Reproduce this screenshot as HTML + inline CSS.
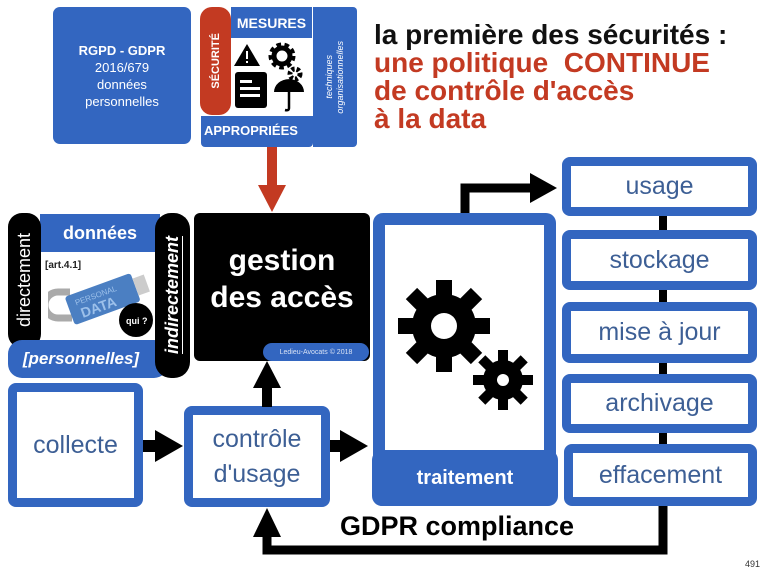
<!DOCTYPE html>
<html><head><meta charset="utf-8"><style>
*{margin:0;padding:0;box-sizing:border-box}
body{width:768px;height:576px;background:#fff;position:relative;overflow:hidden;font-family:"Liberation Sans","DejaVu Sans",sans-serif}
.a{position:absolute}
.blue{background:#3366c0}
.c{display:flex;align-items:center;justify-content:center;text-align:center}
.ob{border:9px solid #3366c0;border-radius:8px;background:#fff;color:#3d5f95;font-size:25px}
.rot{writing-mode:vertical-rl;transform:rotate(180deg)}
</style></head><body>

<div class="a blue c" style="left:53px;top:7px;width:138px;height:137px;border-radius:7px;color:#fff;font-size:13px;line-height:17px;flex-direction:column"><b>RGPD - GDPR</b>2016/679<br>données<br>personnelles</div>

<div class="a blue" style="left:201px;top:116px;width:112px;height:31px;border-radius:0 0 4px 4px"></div>
<div class="a" style="left:204px;top:123px;color:#fff;font-weight:bold;font-size:13px">APPROPRIÉES</div>
<div class="a blue c" style="left:231px;top:7px;width:81px;height:31px;color:#fff;font-weight:bold;font-size:14px">MESURES</div>
<div class="a" style="left:231px;top:38px;width:81px;height:77px;background:#fff"></div>
<div class="a c" style="left:200px;top:7px;width:31px;height:108px;background:#c33a22;border-radius:12px"><span class="rot" style="color:#fff;font-weight:bold;font-size:11px">SÉCURITÉ</span></div>
<div class="a blue c" style="left:313px;top:7px;width:44px;height:140px;border-radius:0 4px 4px 0"><span class="rot" style="color:#fff;font-style:italic;font-size:9px;line-height:11px">techniques<br>organisationnelles</span></div>
<svg class="a" style="left:234px;top:40px" width="76" height="74" viewBox="0 0 76 74">
<polygon points="13,4 26,26 0,26" fill="#000"/><rect x="12" y="11" width="2" height="8" fill="#fff"/><rect x="12" y="21" width="2" height="2" fill="#fff"/>
<circle cx="48" cy="16" r="10" fill="none" stroke="#000" stroke-width="7" stroke-dasharray="4 3"/><circle cx="48" cy="16" r="8" fill="none" stroke="#000" stroke-width="5"/>
<circle cx="61" cy="34" r="5" fill="none" stroke="#000" stroke-width="5" stroke-dasharray="3 2"/>
<rect x="1" y="32" width="32" height="36" rx="3" fill="#000"/><rect x="6" y="40" width="12" height="3" fill="#fff"/><rect x="6" y="47" width="20" height="3" fill="#fff"/><rect x="6" y="54" width="20" height="3" fill="#fff"/>
<path d="M40 52 A14 12 0 0 1 70 52 Z" fill="#000"/><path d="M55 52 V68 q0 3 -4 2" stroke="#000" stroke-width="2.5" fill="none"/>
</svg>

<div class="a" style="left:267px;top:147px;width:10px;height:40px;background:#c33a22"></div>
<svg class="a" style="left:258px;top:185px" width="28" height="28"><polygon points="0,0 28,0 14,27" fill="#c33a22"/></svg>

<div class="a" style="left:374px;top:21px;font-weight:bold;font-size:28px;line-height:28px;color:#111;white-space:nowrap">la première des sécurités :</div>
<div class="a" style="left:374px;top:49px;font-weight:bold;font-size:28px;line-height:28px;color:#c33a22;white-space:nowrap">une politique &nbsp;CONTINUE<br>de contrôle d'accès<br>à la data</div>

<div class="a" style="left:40px;top:250px;width:125px;height:92px;background:#fff"></div>
<div class="a blue c" style="left:40px;top:214px;width:120px;height:38px;color:#fff;font-weight:bold;font-size:18px">données</div>
<div class="a" style="left:45px;top:260px;font-size:10px;font-weight:bold;color:#222">[art.4.1]</div>
<svg class="a" style="left:48px;top:262px" width="105" height="76">
<path d="M22 30 h-12 a10 10 0 0 0 0 26 h14" fill="none" stroke="#aaa" stroke-width="7"/>
<g transform="rotate(-20 55 38)"><rect x="20" y="22" width="70" height="30" rx="3" fill="#4b7fc2"/><rect x="90" y="28" width="12" height="18" fill="#ccc"/><text x="28" y="34" font-size="8" fill="#9cc0ea" font-family="Liberation Sans">PERSONAL</text><text x="30" y="48" font-size="14" font-weight="bold" fill="#9cc0ea" font-family="Liberation Sans">DATA</text></g>
<circle cx="88" cy="58" r="17" fill="#000"/><text x="78" y="62" font-size="9" font-weight="bold" fill="#fff" font-family="Liberation Sans">qui ?</text>
</svg>
<div class="a c" style="left:8px;top:213px;width:33px;height:135px;background:#000;border-radius:14px"><span class="rot" style="color:#fff;font-size:18px">directement</span></div>
<div class="a blue c" style="left:8px;top:340px;width:160px;height:38px;border-radius:14px;color:#fff;font-weight:bold;font-style:italic;font-size:17px;padding-right:14px">[personnelles]</div>
<div class="a c" style="left:155px;top:213px;width:35px;height:165px;background:#000;border-radius:16px"><span class="rot" style="color:#fff;font-size:18px;font-weight:bold;font-style:italic;text-decoration:underline">indirectement</span></div>

<div class="a c" style="left:194px;top:213px;width:176px;height:148px;background:#000;border-radius:6px;color:#fff;font-weight:bold;font-size:30px;line-height:37px;padding-bottom:16px">gestion<br>des accès</div>
<div class="a blue c" style="left:263px;top:343px;width:106px;height:18px;border-radius:9px;color:#d8e2f5;font-size:7px">Ledieu-Avocats © 2018</div>

<div class="a ob c" style="left:8px;top:383px;width:135px;height:124px">collecte</div>
<div class="a ob c" style="left:184px;top:406px;width:146px;height:101px;line-height:35px">contrôle<br>d'usage</div>

<svg class="a" style="left:0;top:0" width="768" height="576">
<rect x="143" y="440" width="14" height="12" fill="#000"/><polygon points="155,430 183,446 155,462" fill="#000"/>
<rect x="330" y="440" width="12" height="12" fill="#000"/><polygon points="340,430 368,446 340,462" fill="#000"/>
<rect x="262" y="385" width="10" height="22" fill="#000"/><polygon points="253,388 281,388 267,361" fill="#000"/>
<path d="M465 213 V188 H532" stroke="#000" stroke-width="9" fill="none"/><polygon points="530,173 557,188 530,203" fill="#000"/>
<rect x="659" y="210" width="8" height="240" fill="#000"/>
<path d="M663 505 V550 H267 V535" stroke="#000" stroke-width="9" fill="none"/><polygon points="253,537 281,537 267,508" fill="#000"/>
</svg>

<div class="a" style="left:373px;top:213px;width:183px;height:293px;border:12px solid #3366c0;border-radius:10px;background:#fff"></div>
<div class="a blue c" style="left:372px;top:450px;width:186px;height:56px;border-radius:10px;color:#fff;font-weight:bold;font-size:20px">traitement</div>
<svg class="a" style="left:398px;top:280px" width="140" height="140" viewBox="0 0 140 140">
<g transform="translate(46,46)"><g fill="#000">
<circle r="32"/>
<rect x="-8" y="-46" width="16" height="92"/><rect x="-8" y="-46" width="16" height="92" transform="rotate(45)"/><rect x="-8" y="-46" width="16" height="92" transform="rotate(90)"/><rect x="-8" y="-46" width="16" height="92" transform="rotate(135)"/>
</g><circle r="13" fill="#fff"/></g>
<g transform="translate(105,100)"><g fill="#000">
<circle r="20"/>
<rect x="-5" y="-30" width="10" height="60"/><rect x="-5" y="-30" width="10" height="60" transform="rotate(45)"/><rect x="-5" y="-30" width="10" height="60" transform="rotate(90)"/><rect x="-5" y="-30" width="10" height="60" transform="rotate(135)"/>
</g><circle r="6" fill="#fff"/></g>
</svg>

<div class="a ob c" style="left:562px;top:157px;width:195px;height:59px">usage</div>
<div class="a ob c" style="left:562px;top:230px;width:195px;height:60px">stockage</div>
<div class="a ob c" style="left:562px;top:302px;width:195px;height:61px">mise à jour</div>
<div class="a ob c" style="left:562px;top:374px;width:195px;height:59px">archivage</div>
<div class="a ob c" style="left:564px;top:444px;width:193px;height:62px">effacement</div>

<div class="a" style="left:340px;top:511px;font-weight:bold;font-size:27px;color:#000;white-space:nowrap">GDPR compliance</div>
<div class="a" style="left:745px;top:559px;font-size:9px;color:#333">491</div>
</body></html>
